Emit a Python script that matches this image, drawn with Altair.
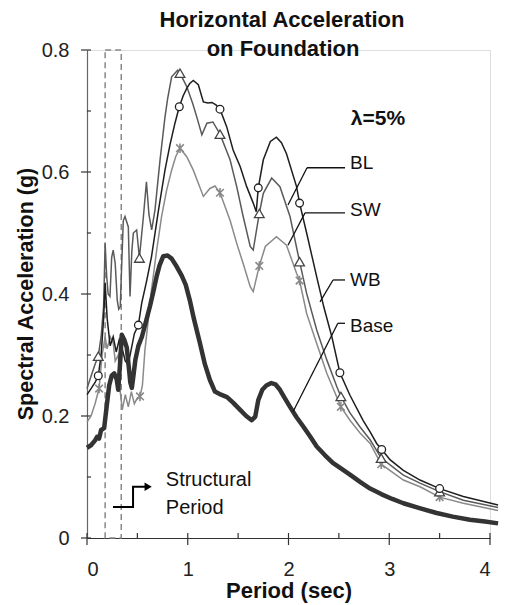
import altair as alt
import pandas as pd

# ---------------- data ----------------
base_T = [0.0, 0.04, 0.08, 0.1, 0.12, 0.14, 0.17, 0.195, 0.22, 0.245, 0.27, 0.295, 0.31, 0.33, 0.345,
          0.37, 0.395, 0.415, 0.43, 0.445, 0.46, 0.48, 0.51, 0.545, 0.585, 0.625, 0.66, 0.69, 0.72,
          0.757, 0.80, 0.84, 0.89, 0.94, 0.98, 1.02, 1.06, 1.12, 1.17, 1.22, 1.27, 1.33, 1.39, 1.45,
          1.52, 1.58, 1.635, 1.67, 1.70, 1.74, 1.78, 1.83, 1.87, 1.915, 1.96, 2.015, 2.08, 2.15, 2.22,
          2.28, 2.36, 2.44, 2.52, 2.61, 2.71, 2.81, 2.92, 3.03, 3.14, 3.3, 3.47, 3.63, 3.8, 3.95, 4.08]
base_A = [0.148, 0.152, 0.160, 0.166, 0.163, 0.177, 0.180, 0.215, 0.25, 0.266, 0.27, 0.26, 0.243, 0.29,
          0.333, 0.325, 0.312, 0.28, 0.255, 0.246, 0.265, 0.292, 0.315, 0.33, 0.355, 0.38, 0.405,
          0.428, 0.447, 0.462, 0.463, 0.458, 0.445, 0.430, 0.415, 0.39, 0.36, 0.32, 0.285, 0.259,
          0.240, 0.235, 0.231, 0.222, 0.21, 0.2, 0.193, 0.199, 0.226, 0.243, 0.25, 0.254, 0.252,
          0.243, 0.23, 0.215, 0.198, 0.182, 0.165, 0.15, 0.136, 0.123, 0.114, 0.104, 0.092, 0.081,
          0.072, 0.064, 0.057, 0.049, 0.041, 0.035, 0.03, 0.027, 0.024]

wb_T = [0.0, 0.04, 0.08, 0.112, 0.14, 0.165, 0.18, 0.2, 0.23, 0.26, 0.29, 0.32, 0.35, 0.38, 0.41, 0.44,
        0.47, 0.51, 0.543, 0.59, 0.64, 0.71, 0.774, 0.824, 0.873, 0.916, 0.955, 0.99, 1.02, 1.055,
        1.105, 1.155, 1.2, 1.24, 1.28, 1.32, 1.387, 1.45, 1.52, 1.585, 1.65, 1.68, 1.70, 1.75, 1.82,
        1.88, 1.93, 1.98, 2.08, 2.11, 2.18, 2.28, 2.35, 2.43, 2.51, 2.61, 2.74, 2.81, 2.875, 2.925,
        3.01, 3.14, 3.305, 3.5, 3.735, 4.08]
wb_A = [0.235, 0.245, 0.255, 0.266, 0.30, 0.36, 0.418, 0.36, 0.315, 0.33, 0.305, 0.325, 0.31, 0.29,
        0.285, 0.31, 0.335, 0.349, 0.385, 0.42, 0.461, 0.538, 0.603, 0.645, 0.68, 0.707, 0.725, 0.737,
        0.745, 0.75, 0.743, 0.715, 0.713, 0.714, 0.71, 0.703, 0.674, 0.636, 0.609, 0.576, 0.549, 0.535,
        0.574, 0.62, 0.65, 0.657, 0.648, 0.63, 0.576, 0.549, 0.50, 0.428, 0.379, 0.33, 0.271, 0.234,
        0.193, 0.174, 0.155, 0.145, 0.128, 0.111, 0.095, 0.081, 0.068, 0.054]

bl_T = [0.0, 0.04, 0.08, 0.112, 0.14, 0.165, 0.18, 0.195, 0.21, 0.228, 0.245, 0.26, 0.28, 0.30, 0.315,
        0.33, 0.345, 0.36, 0.377, 0.41, 0.427, 0.445, 0.46, 0.493, 0.52, 0.56, 0.59, 0.615, 0.642,
        0.675, 0.725, 0.774, 0.80, 0.84, 0.9, 0.923, 0.99, 1.05, 1.09, 1.14, 1.19, 1.25, 1.32, 1.42,
        1.486, 1.55, 1.62, 1.65, 1.71, 1.75, 1.833, 1.915, 2.015, 2.11, 2.18, 2.28, 2.38, 2.48, 2.52,
        2.61, 2.71, 2.81, 2.92, 3.14, 3.305, 3.5, 3.735, 4.08]
bl_A = [0.245, 0.265, 0.285, 0.298, 0.33, 0.38, 0.483, 0.43, 0.40, 0.396, 0.46, 0.472, 0.45, 0.39,
        0.375, 0.379, 0.45, 0.52, 0.527, 0.51, 0.396, 0.47, 0.50, 0.505, 0.459, 0.527, 0.584, 0.53,
        0.505, 0.538, 0.62, 0.69, 0.72, 0.756, 0.767, 0.762, 0.74, 0.712, 0.69, 0.661, 0.68, 0.682,
        0.662, 0.62, 0.576, 0.527, 0.478, 0.472, 0.532, 0.565, 0.59, 0.576, 0.527, 0.453, 0.401,
        0.341, 0.292, 0.248, 0.232, 0.205, 0.182, 0.161, 0.131, 0.103, 0.09, 0.076, 0.062, 0.05]

sw_T = [0.0, 0.04, 0.08, 0.12, 0.15, 0.18, 0.2, 0.23, 0.26, 0.28, 0.31, 0.33, 0.35, 0.38, 0.41, 0.44,
        0.47, 0.5, 0.526, 0.55, 0.575, 0.61, 0.64, 0.69, 0.74, 0.79, 0.84, 0.88, 0.923, 0.99, 1.055,
        1.155, 1.22, 1.27, 1.32, 1.42, 1.486, 1.55, 1.62, 1.65, 1.71, 1.77, 1.88, 1.98, 2.08, 2.11,
        2.18, 2.28, 2.38, 2.52, 2.61, 2.71, 2.81, 2.92, 3.14, 3.305, 3.5, 3.735, 4.08]
sw_A = [0.19, 0.20, 0.22, 0.245, 0.30, 0.33, 0.31, 0.33, 0.32, 0.29, 0.30, 0.24, 0.21, 0.235, 0.215,
        0.24, 0.22, 0.23, 0.232, 0.25, 0.308, 0.36, 0.407, 0.47, 0.527, 0.57, 0.603, 0.625, 0.639,
        0.625, 0.603, 0.56, 0.573, 0.577, 0.566, 0.521, 0.483, 0.45, 0.412, 0.404, 0.446, 0.478,
        0.494, 0.48, 0.434, 0.422, 0.368, 0.319, 0.27, 0.215, 0.193, 0.172, 0.155, 0.121, 0.095,
        0.084, 0.067, 0.057, 0.045]

# marker positions
wb_mark_T = [0.112, 0.51, 0.916, 1.32, 1.70, 2.11, 2.51, 2.925, 3.5]
wb_mark_A = [0.266, 0.349, 0.707, 0.703, 0.574, 0.549, 0.271, 0.145, 0.081]
bl_mark_T = [0.112, 0.52, 0.923, 1.32, 1.71, 2.11, 2.52, 2.92, 3.5]
bl_mark_A = [0.298, 0.459, 0.762, 0.662, 0.532, 0.453, 0.232, 0.131, 0.076]
sw_mark_T = [0.12, 0.526, 0.923, 1.32, 1.71, 2.11, 2.52, 2.92, 3.5]
sw_mark_A = [0.245, 0.232, 0.639, 0.566, 0.446, 0.422, 0.215, 0.121, 0.067]

# annotations
series_labels = ["BL", "SW", "WB", "Base"]
label_T = [2.61, 2.61, 2.61, 2.61]
label_A = [0.614, 0.538, 0.423, 0.348]
leader_T = [2.184, 2.164, 2.442, 2.49]
leader_A = [0.607, 0.533, 0.423, 0.352]
leader_end_T = [1.995, 1.995, 2.313, 2.045]
leader_end_A = [0.546, 0.480, 0.387, 0.207]
leader_stub_T = [2.561, 2.561, 2.561, 2.561]

struct_T = [0.18, 0.34]          # structural period band
struct_A = [0.0, 0.8]
arrow_T = [0.258, 0.457, 0.457, 0.585]
arrow_A = [0.051, 0.051, 0.084, 0.084]
arrow_tip = (0.607, 0.084)

x_ticks_major = [0, 1, 2, 3, 4]
x_ticks_minor = [0.5, 1.5, 2.5, 3.5]
y_ticks_major = [0, 0.2, 0.4, 0.6, 0.8]
y_ticks_minor = [0.1, 0.3, 0.5, 0.7]

FONT = "Liberation Sans"
W, H = 403, 488

# ---------------- scales / encodings ----------------
xs = alt.Scale(domain=[0, 4], nice=False, zero=False)
ys = alt.Scale(domain=[0, 0.8], nice=False, zero=False)
X = alt.X("T:Q", scale=xs, axis=alt.Axis(values=x_ticks_major, format="d", ticks=False, grid=False,
                                         labelFontSize=20, labelPadding=21, labelColor="#222",
                                         domainColor="#333", domainWidth=1.2, title=None, labelFont=FONT))
Y = alt.Y("A:Q", scale=ys, axis=alt.Axis(values=y_ticks_major, format=".1~f", ticks=False, grid=False,
                                         labelFontSize=20, labelPadding=18, labelColor="#222",
                                         domainColor="#666", domainWidth=1.2, title=None, labelFont=FONT))


def df(T, A, **extra):
    d = pd.DataFrame({"T": T, "A": A})
    for k, v in extra.items():
        d[k] = v
    return d


layers = []

# structural period box
box = alt.Chart(pd.DataFrame({"T": [struct_T[0]], "T2": [struct_T[1]],
                              "A": [struct_A[0]], "A2": [struct_A[1]]})).mark_rect(
    fill="transparent", stroke="#888", strokeWidth=1.5, strokeDash=[6, 4]
).encode(x=X, x2=alt.X2("T2"), y=Y, y2=alt.Y2("A2"))
layers.append(box)

# tick marks
ytm = alt.Chart(pd.DataFrame({"A": y_ticks_major})).mark_rule(color="#333", strokeWidth=1.2).encode(
    y=Y, x=alt.value(-6), x2=alt.value(4))
ytn = alt.Chart(pd.DataFrame({"A": y_ticks_minor})).mark_rule(color="#333", strokeWidth=1.2).encode(
    y=Y, x=alt.value(0), x2=alt.value(4))
xtm = alt.Chart(pd.DataFrame({"T": x_ticks_major})).mark_rule(color="#333", strokeWidth=1.2).encode(
    x=X, y=alt.value(H - 5), y2=alt.value(H + 7))
xtn = alt.Chart(pd.DataFrame({"T": x_ticks_minor})).mark_rule(color="#333", strokeWidth=1.2).encode(
    x=X, y=alt.value(H - 5), y2=alt.value(H))
layers += [ytm, ytn, xtm, xtn]

# series lines
sw_line = alt.Chart(df(sw_T, sw_A)).mark_line(color="#8a8a8a", strokeWidth=1.5).encode(x=X, y=Y)
bl_line = alt.Chart(df(bl_T, bl_A)).mark_line(color="#5a5a5a", strokeWidth=1.5).encode(x=X, y=Y)
wb_line = alt.Chart(df(wb_T, wb_A)).mark_line(color="#1e1e1e", strokeWidth=1.5).encode(x=X, y=Y)
base_line = alt.Chart(df(base_T, base_A)).mark_line(color="#333333", strokeWidth=4.5,
                                                    strokeJoin="round").encode(x=X, y=Y)
layers += [sw_line, bl_line, wb_line, base_line]

# markers
asterisk = "M-0.8,-0.8L0.8,0.8M-0.8,0.8L0.8,-0.8M0,-1L0,1"
sw_pts = alt.Chart(df(sw_mark_T, sw_mark_A)).mark_point(
    shape=asterisk, size=90, color="#888", strokeWidth=1.6, filled=False, opacity=1).encode(x=X, y=Y)
bl_pts = alt.Chart(df(bl_mark_T, bl_mark_A)).mark_point(
    shape="triangle-up", size=95, stroke="#444", fill="white", fillOpacity=1, strokeWidth=1.3,
    opacity=1).encode(x=X, y=Y)
wb_pts = alt.Chart(df(wb_mark_T, wb_mark_A)).mark_point(
    shape="circle", size=60, stroke="#222", fill="white", fillOpacity=1, strokeWidth=1.3,
    opacity=1).encode(x=X, y=Y)
layers += [sw_pts, bl_pts, wb_pts]

# leader lines for labels
lead = pd.DataFrame({"T": leader_T, "A": leader_A, "T2": leader_end_T, "A2": leader_end_A})
stub = pd.DataFrame({"T": leader_T, "A": leader_A, "T2": leader_stub_T, "A2": leader_A})
layers.append(alt.Chart(lead).mark_rule(color="#111", strokeWidth=1.3).encode(
    x=X, y=Y, x2=alt.X2("T2"), y2=alt.Y2("A2")))
layers.append(alt.Chart(stub).mark_rule(color="#111", strokeWidth=1.3).encode(
    x=X, y=Y, x2=alt.X2("T2"), y2=alt.Y2("A2")))

layers.append(alt.Chart(pd.DataFrame({"T": label_T, "A": label_A, "lab": series_labels})).mark_text(
    align="left", baseline="middle", fontSize=19, font=FONT, color="#111").encode(
    x=X, y=Y, text="lab:N"))

# lambda
layers.append(alt.Chart(pd.DataFrame({"T": [2.888], "A": [0.687], "lab": ["λ=5%"]})).mark_text(
    align="center", baseline="middle", fontSize=21, fontWeight="bold", font=FONT, color="#111").encode(
    x=X, y=Y, text="lab:N"))

# structural period arrow + text
arrow = df(arrow_T, arrow_A, i=list(range(len(arrow_T))))
layers.append(alt.Chart(arrow).mark_line(color="#000", strokeWidth=2).encode(
    x=X, y=Y, order="i:O"))
layers.append(alt.Chart(df([arrow_tip[0]], [arrow_tip[1]])).mark_point(
    shape="triangle-right", size=70, filled=True, color="#000", opacity=1).encode(x=X, y=Y))
layers.append(alt.Chart(pd.DataFrame({"T": [0.782, 0.782], "A": [0.095, 0.05],
                                      "lab": ["Structural", "Period"]})).mark_text(
    align="left", baseline="middle", fontSize=20, font=FONT, color="#111").encode(
    x=X, y=Y, text="lab:N"))

# titles (chart + axes) as text
def ptext(txt, px, py, size, angle=0, weight="bold"):
    kw = dict(align="center", baseline="middle", fontSize=size, fontWeight=weight, font=FONT,
              color="#111", text=txt)
    if angle:
        kw["angle"] = angle
    return alt.Chart(pd.DataFrame({"d": [0]})).mark_text(**kw).encode(
        x=alt.value(px), y=alt.value(py))

layers.append(ptext("Horizontal Acceleration", 282 - 87, 20 - 50, 22))
layers.append(ptext("on Foundation", 283 - 87, 49 - 50, 22))
layers.append(ptext("Period (sec)", 289 - 87, 591 - 50, 22))
layers.append(ptext("Spectral Acceleration (g)", 27 - 87, 294 - 50, 21.5, angle=270))

chart = alt.layer(*layers).properties(
    width=W, height=H,
    autosize=alt.AutoSizeParams(type="none"),
    padding={"left": 87, "top": 50, "right": 15, "bottom": 67},
).configure_view(stroke=None).configure(font=FONT)

chart.save("out.html", embed_options={"renderer": "svg", "actions": False})
